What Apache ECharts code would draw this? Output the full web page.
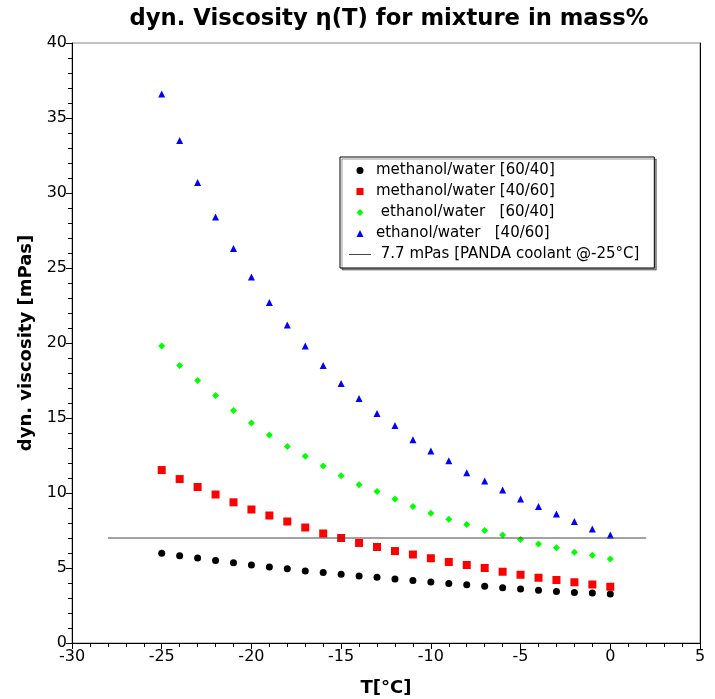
<!DOCTYPE html>
<html><head><meta charset="utf-8">
<script src="https://cdn.jsdelivr.net/npm/echarts@6/dist/echarts.min.js"></script>
<style>html,body{margin:0;padding:0;background:#fff}#c{width:715px;height:699px}</style>
</head><body><div id="c"></div>
<script>
const temps = [-25,-24,-23,-22,-21,-20,-19,-18,-17,-16,-15,-14,-13,-12,-11,-10,-9,-8,-7,-6,-5,-4,-3,-2,-1,0];
const methanol6040 = [5.98,5.82,5.67,5.5,5.35,5.2,5.07,4.95,4.8,4.7,4.58,4.47,4.38,4.27,4.17,4.07,3.97,3.88,3.78,3.69,3.6,3.52,3.44,3.37,3.33,3.27];
const methanol4060 = [11.53,10.93,10.4,9.9,9.38,8.9,8.5,8.1,7.7,7.3,7.0,6.67,6.4,6.13,5.9,5.65,5.4,5.2,5.0,4.75,4.55,4.35,4.2,4.05,3.9,3.75];
const ethanol6040 = [19.8,18.5,17.5,16.5,15.5,14.67,13.87,13.1,12.45,11.8,11.15,10.55,10.1,9.6,9.1,8.65,8.25,7.9,7.5,7.2,6.9,6.6,6.35,6.05,5.85,5.6];
const ethanol4060 = [36.6,33.5,30.7,28.4,26.3,24.4,22.7,21.2,19.8,18.5,17.3,16.3,15.3,14.5,13.55,12.8,12.15,11.35,10.8,10.2,9.6,9.1,8.6,8.1,7.6,7.2];
const refLineX = [-28, 2];
const refLineY = [7.0, 7.0];
const seriesNames = ['methanol/water [60/40]','methanol/water [40/60]',' ethanol/water   [60/40]','ethanol/water   [40/60]',' 7.7 mPas [PANDA coolant @-25°C]'];
const xTicks = {min:-30, max:5, interval:5};
const yTicks = {min:0, max:40, interval:5};

const pair = (xs, ys) => xs.map((x,i)=>[x, ys[i]]);
const FONT = 'DejaVu Sans';
const ICONS = [
  'path://M50,0A50,50,0,1,1,49.99,0Z',
  'path://M0,0L100,0L100,100L0,100Z',
  'path://M50,0L100,50L50,100L0,50Z',
  'path://M50,0L100,100L0,100Z',
  'path://M0,0L220,0L220,10L0,10Z'
];
const chart = echarts.init(document.getElementById('c'), null, {renderer:'canvas'});
chart.setOption({
  animation:false,
  title:{text:'dyn. Viscosity η(T) for mixture in mass%', left:384, top:3, textAlign:'center',
    textStyle:{fontFamily:FONT, fontWeight:'bold', fontSize:22.7, color:'#000'}},
  grid:{left:72, right:15, top:43, bottom:56, containLabel:false, outerBoundsMode:'none',
    show:true, borderColor:'#888', borderWidth:1, backgroundColor:'#fff'},
  legend:{orient:'vertical', left:340, top:157, padding:[5,15,5,9], itemGap:4, itemWidth:22, itemHeight:7,
    borderColor:'#000', borderWidth:1, backgroundColor:'#fff',
    shadowColor:'rgba(0,0,0,0.4)', shadowOffsetX:2, shadowOffsetY:2, shadowBlur:0,
    textStyle:{fontFamily:FONT, fontSize:15, color:'#000', lineHeight:17},
    data:seriesNames.map((n,i)=>({name:n, icon:ICONS[i]}))},
  xAxis:{type:'value', min:xTicks.min, max:xTicks.max, interval:xTicks.interval,
    name:'T[°C]', nameLocation:'middle', nameGap:36,
    nameTextStyle:{fontFamily:FONT, fontWeight:'bold', fontSize:18, color:'#000'},
    axisLine:{onZero:false, lineStyle:{color:'#000', width:1}},
    axisTick:{show:true, inside:false, length:6, lineStyle:{color:'#000'}},
    minorTick:{show:true, splitNumber:5, length:4, lineStyle:{color:'#000'}},
    splitLine:{show:false},
    axisLabel:{fontFamily:FONT, fontSize:16, color:'#000', margin:6}},
  yAxis:[{type:'value', min:yTicks.min, max:yTicks.max, interval:yTicks.interval,
    name:'dyn. viscosity [mPas]', nameLocation:'middle', nameGap:37,
    nameTextStyle:{fontFamily:FONT, fontWeight:'bold', fontSize:18, color:'#000'},
    axisLine:{show:true, onZero:false, lineStyle:{color:'#000', width:1}},
    axisTick:{show:true, inside:false, length:6, lineStyle:{color:'#000'}},
    minorTick:{show:true, splitNumber:5, length:4, lineStyle:{color:'#000'}},
    splitLine:{show:false},
    axisLabel:{fontFamily:FONT, fontSize:16, color:'#000', margin:5}},
   {type:'value', position:'right', min:yTicks.min, max:yTicks.max, interval:yTicks.interval,
    axisLine:{show:true, onZero:false, lineStyle:{color:'#000', width:1}},
    axisTick:{show:false}, axisLabel:{show:false}, splitLine:{show:false}}],
  series:[
    {name:seriesNames[0], type:'scatter', data:pair(temps, methanol6040), symbol:'circle', symbolSize:7, itemStyle:{color:'#000', opacity:1}},
    {name:seriesNames[1], type:'scatter', data:pair(temps, methanol4060), symbol:'rect', symbolSize:8, itemStyle:{color:'#ff0000', opacity:1}},
    {name:seriesNames[2], type:'scatter', data:pair(temps, ethanol6040), symbol:'diamond', symbolSize:7, itemStyle:{color:'#00ff00', opacity:1}},
    {name:seriesNames[3], type:'scatter', data:pair(temps, ethanol4060), symbol:'triangle', symbolSize:7, itemStyle:{color:'#0000ff', opacity:1}},
    {name:seriesNames[4], type:'line', data:pair(refLineX, refLineY), symbol:'none', lineStyle:{color:'#444', width:1}, itemStyle:{color:'#444'}}
  ]
});
</script></body></html>
